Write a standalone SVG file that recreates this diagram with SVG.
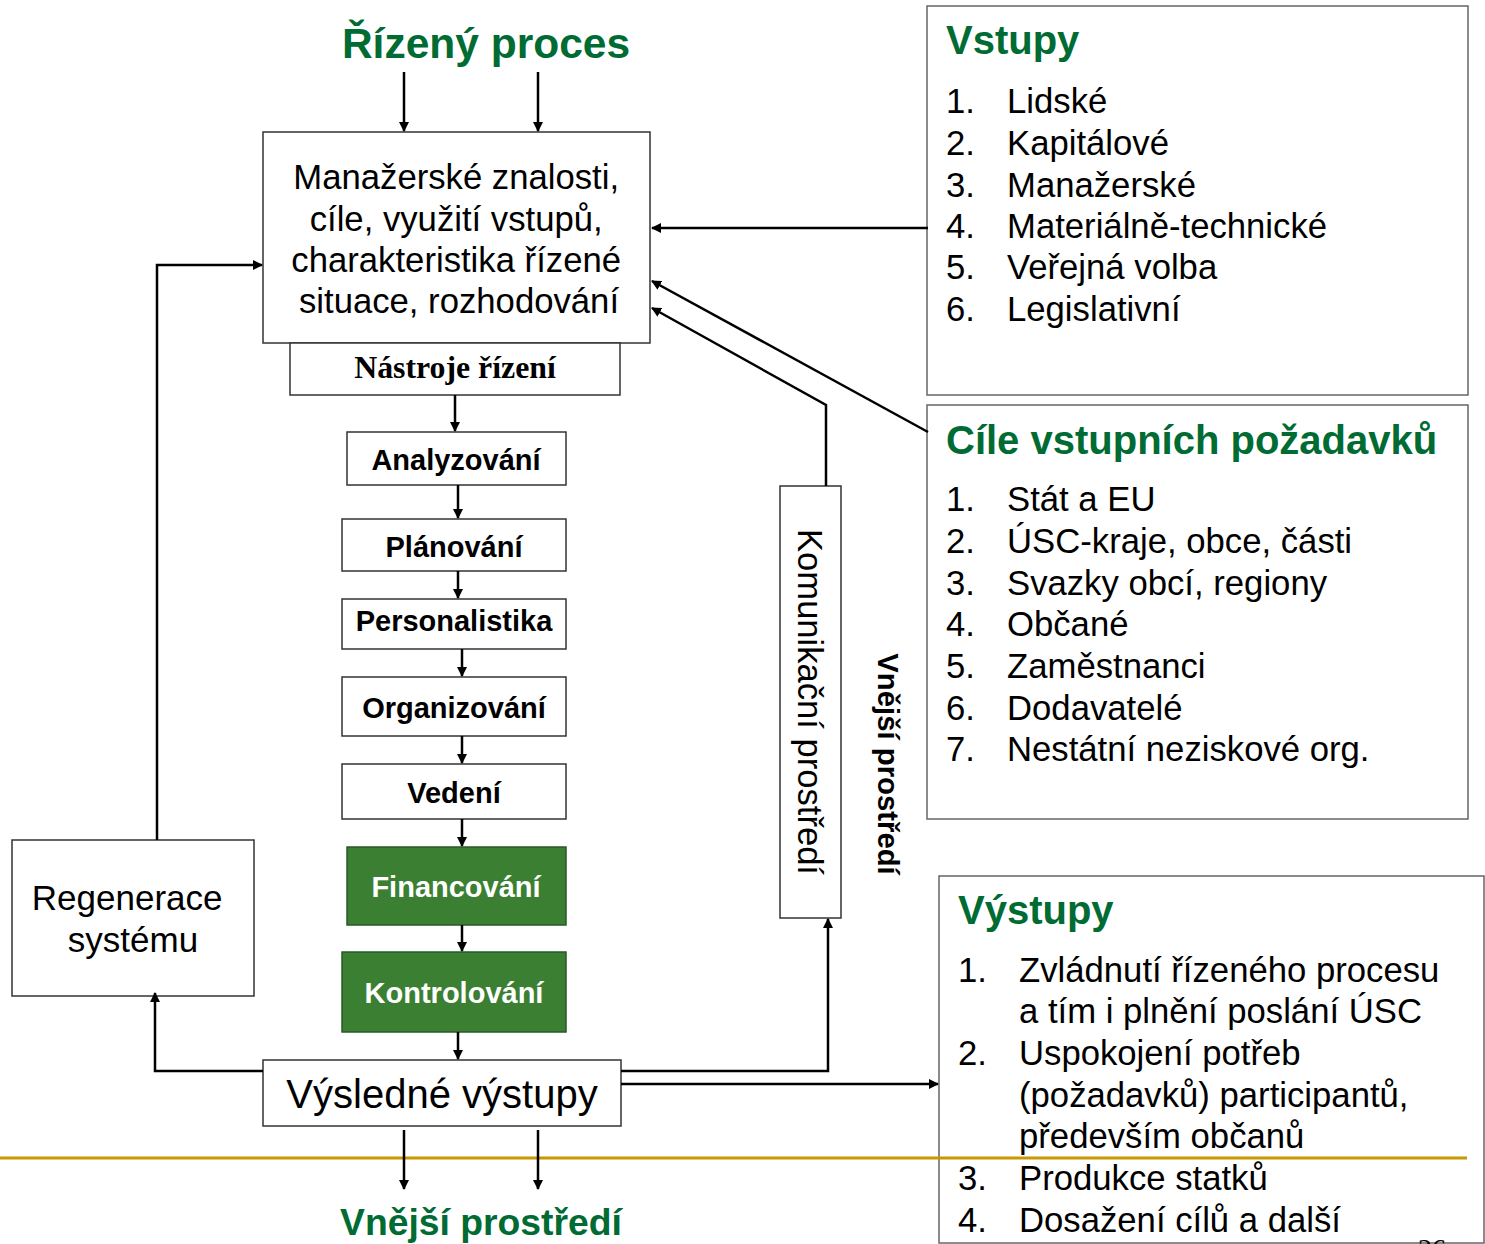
<svg xmlns="http://www.w3.org/2000/svg" width="1485" height="1244" viewBox="0 0 1485 1244">
<defs>
<marker id="ah" markerWidth="10" markerHeight="10" refX="9" refY="5" orient="auto" markerUnits="userSpaceOnUse">
<path d="M0,0 L10,5 L0,10 Z" fill="#000"/>
</marker>
<style>
.box{fill:#fff;stroke:#333;stroke-width:1.5}
.gbox{fill:#3B7F32;stroke:#2a5a24;stroke-width:1.5}
.ibox{fill:#fff;stroke:#666;stroke-width:1.5}
.con{fill:none;stroke:#000;stroke-width:2.5}
.ar{marker-end:url(#ah)}
.t{font-family:"Liberation Sans",Arial,sans-serif;fill:#000}
.tb{font-family:"Liberation Sans",Arial,sans-serif;font-weight:bold;fill:#000;font-size:29px;text-anchor:middle}
.tw{font-family:"Liberation Sans",Arial,sans-serif;font-weight:bold;fill:#fff;font-size:29px;text-anchor:middle}
.g{font-family:"Liberation Sans",Arial,sans-serif;font-weight:bold;fill:#006B33}
.li{font-family:"Liberation Sans",Arial,sans-serif;font-size:34.7px;fill:#000}
</style>
</defs>

<text class="g" x="486" y="58" font-size="42.5" text-anchor="middle">Řízený proces</text>
<text class="g" x="481" y="1235" font-size="37.3" text-anchor="middle">Vnější prostředí</text>

<g id="main">
<rect class="box" x="263" y="132" width="387" height="211"/>
<text class="t" font-size="34.7" text-anchor="middle">
<tspan x="461" y="189">Manažerské znalosti,</tspan>
<tspan x="461" y="231">cíle, využití vstupů,</tspan>
<tspan x="461" y="272">charakteristika řízené</tspan>
<tspan x="459" y="313">situace, rozhodování</tspan>
</text>
</g>

<g id="nastroje">
<rect class="box" x="290" y="343" width="330" height="52"/>
<text x="455" y="378" font-family="'Liberation Serif','Times New Roman',serif" font-weight="bold" font-size="31.8" text-anchor="middle">Nástroje řízení</text>
</g>

<g id="analyzovani">
<rect class="box" x="347" y="432" width="219" height="53"/>
<text class="tb" x="456" y="470">Analyzování</text>
</g>
<g id="planovani">
<rect class="box" x="342" y="519" width="224" height="52"/>
<text class="tb" x="454" y="557">Plánování</text>
</g>
<g id="personalistika">
<rect class="box" x="342" y="599" width="224" height="50"/>
<text class="tb" x="454" y="631">Personalistika</text>
</g>
<g id="organizovani">
<rect class="box" x="342" y="677" width="224" height="59"/>
<text class="tb" x="454" y="718">Organizování</text>
</g>
<g id="vedeni">
<rect class="box" x="342" y="764" width="224" height="55"/>
<text class="tb" x="454" y="803">Vedení</text>
</g>
<g id="financovani">
<rect class="gbox" x="347" y="847" width="219" height="78"/>
<text class="tw" x="456" y="897">Financování</text>
</g>
<g id="kontrolovani">
<rect class="gbox" x="342" y="952" width="224" height="80"/>
<text class="tw" x="454" y="1003">Kontrolování</text>
</g>

<g id="vysledne">
<rect class="box" x="263" y="1060" width="358" height="66"/>
<text class="t" x="442" y="1108" font-size="40" text-anchor="middle">Výsledné výstupy</text>
</g>

<g id="regenerace">
<rect class="box" x="12" y="840" width="242" height="156"/>
<text class="t" font-size="35" text-anchor="middle">
<tspan x="132" y="910">Regenerace</tspan>
<tspan x="133" y="952">systému</tspan>
</text>
</g>

<g id="komunikacni">
<rect class="box" x="780" y="486" width="61" height="432"/>
<text class="t" font-size="34.6" text-anchor="middle" transform="translate(798,702) rotate(90)">Komunikační prostředí</text>
</g>

<g id="vnejsi-svisle">
<text class="t" font-size="29.3" font-weight="bold" text-anchor="middle" transform="translate(878,764) rotate(90)">Vnější prostředí</text>
</g>

<g id="vstupy">
<rect class="ibox" x="927" y="6" width="541" height="389"/>
<text class="g" x="946" y="54" font-size="40">Vstupy</text>
<g class="li">
<text x="946" y="113">1.</text><text x="1007" y="113">Lidské</text>
<text x="946" y="155">2.</text><text x="1007" y="155">Kapitálové</text>
<text x="946" y="197">3.</text><text x="1007" y="197">Manažerské</text>
<text x="946" y="238">4.</text><text x="1007" y="238">Materiálně-technické</text>
<text x="946" y="279">5.</text><text x="1007" y="279">Veřejná volba</text>
<text x="946" y="321">6.</text><text x="1007" y="321">Legislativní</text>
</g>
</g>

<g id="cile">
<rect class="ibox" x="927" y="405" width="541" height="414"/>
<text class="g" x="946" y="454" font-size="40">Cíle vstupních požadavků</text>
<g class="li">
<text x="946" y="511">1.</text><text x="1007" y="511">Stát a EU</text>
<text x="946" y="553">2.</text><text x="1007" y="553">ÚSC-kraje, obce, části</text>
<text x="946" y="595">3.</text><text x="1007" y="595">Svazky obcí, regiony</text>
<text x="946" y="636">4.</text><text x="1007" y="636">Občané</text>
<text x="946" y="678">5.</text><text x="1007" y="678">Zaměstnanci</text>
<text x="946" y="720">6.</text><text x="1007" y="720">Dodavatelé</text>
<text x="946" y="761">7.</text><text x="1007" y="761">Nestátní neziskové org.</text>
</g>
</g>

<g id="vystupy">
<rect class="ibox" x="939" y="876" width="545" height="367"/>
<text class="g" x="958" y="924" font-size="40">Výstupy</text>
<g class="li">
<text x="958" y="982">1.</text><text x="1019" y="982">Zvládnutí řízeného procesu</text>
<text x="1019" y="1023">a tím i plnění poslání ÚSC</text>
<text x="958" y="1065">2.</text><text x="1019" y="1065">Uspokojení potřeb</text>
<text x="1019" y="1107">(požadavků) participantů,</text>
<text x="1019" y="1148">především občanů</text>
<text x="958" y="1190">3.</text><text x="1019" y="1190">Produkce statků</text>
<text x="958" y="1232">4.</text><text x="1019" y="1232">Dosažení cílů a další</text>
</g>
</g>

<line x1="0" y1="1158" x2="1467" y2="1158" stroke="#C89800" stroke-width="3"/>

<g id="connectors">
<line class="con ar" x1="404" y1="72" x2="404" y2="131"/>
<line class="con ar" x1="538" y1="72" x2="538" y2="131"/>
<line class="con ar" x1="455" y1="395" x2="455" y2="431"/>
<line class="con ar" x1="458" y1="485" x2="458" y2="518"/>
<line class="con ar" x1="458" y1="571" x2="458" y2="598"/>
<line class="con ar" x1="462" y1="649" x2="462" y2="676"/>
<line class="con ar" x1="462" y1="736" x2="462" y2="763"/>
<line class="con ar" x1="462" y1="819" x2="462" y2="846"/>
<line class="con ar" x1="462" y1="925" x2="462" y2="951"/>
<line class="con ar" x1="458" y1="1032" x2="458" y2="1059"/>
<line class="con ar" x1="404" y1="1130" x2="404" y2="1189"/>
<line class="con ar" x1="538" y1="1130" x2="538" y2="1189"/>
<polyline class="con ar" points="157,840 157,265 262,265"/>
<polyline class="con ar" points="263,1071 155,1071 155,993"/>
<polyline class="con ar" points="621,1071 828,1071 828,919"/>
<line class="con ar" x1="621" y1="1084" x2="938" y2="1084"/>
<polyline class="con ar" points="826,486 826,405 652,308"/>
<line class="con ar" x1="928" y1="432" x2="652" y2="281"/>
<line class="con ar" x1="928" y1="228" x2="652" y2="228"/>
</g>

<text x="1418" y="1258" font-family="'Liberation Serif','Times New Roman',serif" font-size="28" fill="#000">26</text>
</svg>
